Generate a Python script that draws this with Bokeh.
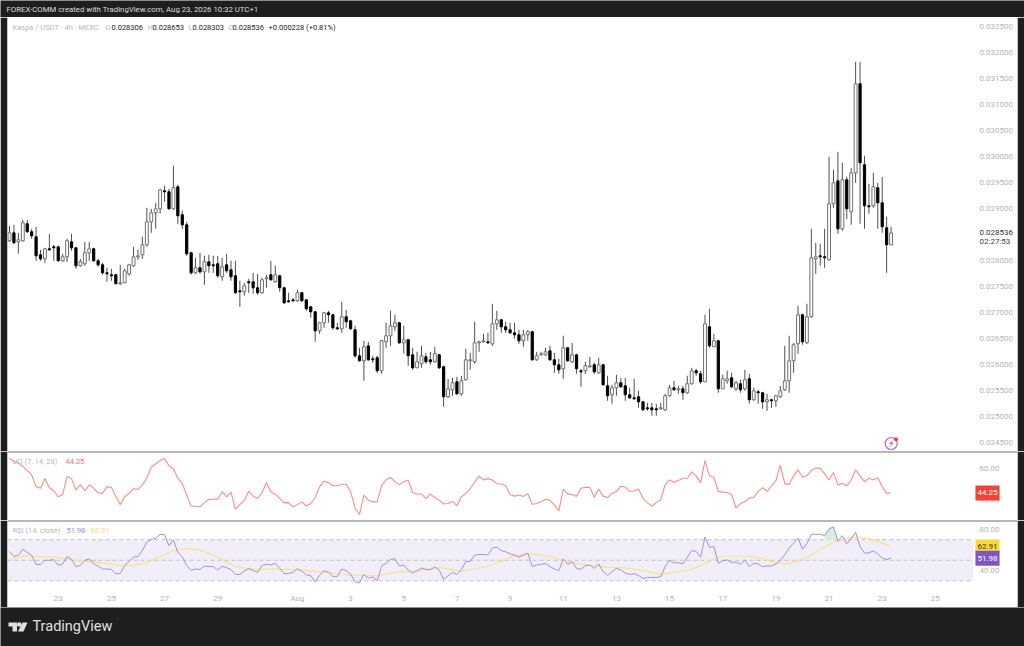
from bokeh.plotting import figure
from bokeh.layouts import column
from bokeh.models import Range1d, FixedTicker, NumeralTickFormatter, Label, Span
from bokeh.embed import file_html
from bokeh.resources import INLINE
import numpy as np

# Prices are in millionths of USDT
opens = [
 28385,28538,28365,28385,28712,28558,28462,28115,28038,28231,
 28269,28269,28000,28077,28365,28250,27904,27942,28154,28231,
 28000,27923,27769,27731,27731,27558,27577,27750,27904,28077,
 28115,28308,28750,28923,29000,29346,29327,29000,29423,28885,
 28692,28154,27769,27865,27788,27981,27923,27942,27692,27923,
 27827,27712,27423,27404,27596,27596,27481,27385,27654,27731,
 27596,27712,27481,27231,27250,27231,27385,27250,27115,27019,
 26654,26808,27000,26962,26712,26692,26923,26846,26673,26173,
 26077,26365,26115,26135,25885,26442,26558,26731,26808,26423,
 26481,26192,25942,26019,26154,26096,26058,26192,25962,25385,
 25519,25673,25442,25712,26077,26058,26423,26442,26442,26404,
 26788,26865,26731,26673,26615,26577,26462,26577,26635,26096,
 26192,26192,26269,26096,26000,25923,26327,26058,26192,25885,
 25885,25962,26000,25846,26000,25596,25423,25558,25654,25596,
 25423,25365,25385,25288,25173,25173,25154,25154,25135,25404,
 25558,25519,25538,25462,25635,25885,25827,25673,26731,26346,
 26462,25538,25692,25750,25538,25635,25538,25731,25327,25481,
 25462,25288,25327,25308,25385,25519,25692,26077,26404,26962,
 26423,26923,28038,28096,28077,28019,29096,29538,28615,29558,
 28942,29692,31404,29846,29058,29058,29404,29115,28635,28306]
highs = [
 28673,28692,28538,28788,28788,28615,28654,28212,28250,28519,
 28308,28288,28135,28423,28519,28269,28038,28365,28365,28250,
 28038,27962,27865,27846,27750,27923,27846,27942,28269,28212,
 28462,29019,29000,29115,29385,29442,29385,29827,29462,28962,
 28750,28173,28058,28154,28096,28115,28096,28096,28058,28135,
 28000,28000,27615,27577,27654,27769,27750,27673,27731,28000,
 27904,27731,27500,27385,27288,27442,27404,27250,27135,27038,
 26827,27019,27038,26981,26808,27212,27058,26865,26750,26327,
 26462,26442,26173,26173,26481,26808,27038,26962,26827,26750,
 26500,26327,26250,26365,26231,26250,26346,26212,25981,25731,
 25750,25769,25788,26308,26231,26827,26462,26596,26615,27173,
 27038,26885,26827,26808,26808,26673,26673,26673,26654,26250,
 26250,26327,26365,26231,26115,26558,26346,26423,26212,25923,
 26058,26154,26038,26135,26019,25788,25615,25808,25750,25750,
 25558,25731,25500,25308,25269,25269,25250,25269,25442,25615,
 25692,25596,25596,25788,25942,25923,25885,26962,27077,26596,
 26481,25808,25885,25846,25692,25712,25904,25827,25558,25519,
 25481,25442,25346,25423,25596,26365,26558,26423,27135,26981,
 27173,28615,28346,28327,28615,30000,29750,30096,29885,29615,
 29788,31827,31827,30019,29481,29692,29500,29615,28846,28653]
lows = [
 28365,28327,28135,28365,28538,28423,28000,28000,27962,28192,
 28000,27981,27981,27981,28192,27846,27885,27904,28000,27981,
 27885,27731,27596,27615,27558,27538,27577,27712,27885,28019,
 28038,28269,28538,28615,28904,29135,28981,28981,28712,28615,
 28096,27731,27750,27750,27538,27769,27769,27673,27615,27769,
 27615,27365,27115,27327,27385,27365,27346,27365,27481,27615,
 27577,27404,27173,27192,27212,27212,27212,27038,26904,26442,
 26596,26712,26808,26673,26673,26615,26712,26673,26135,26058,
 25692,26077,26038,25846,25827,26327,26365,26654,26404,26212,
 25981,25904,25942,25942,26019,26000,26038,25923,25192,25365,
 25404,25423,25404,25692,25904,26019,26250,26423,26404,26365,
 26673,26615,26615,26596,26500,26404,26346,26462,26077,26077,
 26173,26173,26077,25846,25827,25731,26058,26038,25827,25577,
 25827,25942,25827,25827,25596,25308,25250,25404,25558,25308,
 25346,25327,25173,25115,25115,25019,25019,25135,25115,25385,
 25500,25442,25327,25442,25615,25788,25635,25673,26327,26346,
 25462,25538,25635,25558,25500,25462,25500,25250,25308,25250,
 25154,25115,25173,25192,25365,25500,25462,25846,26212,26385,
 26404,26904,27750,27904,27865,28000,29019,28519,28577,28808,
 28692,29500,28712,28615,28904,29019,28615,28538,27769,28303]
closes = [
 28538,28346,28404,28731,28558,28481,28096,28038,28231,28212,
 28250,28000,28077,28385,28250,27904,27981,28154,28231,28000,
 27923,27769,27750,27712,27558,27577,27808,27923,28077,28096,
 28308,28750,28923,29000,29365,29327,29000,29404,28865,28692,
 28135,27769,27865,27788,27981,27904,27904,27712,27885,27808,
 27692,27385,27404,27519,27577,27481,27385,27635,27673,27635,
 27731,27481,27192,27212,27231,27385,27231,27077,27019,26654,
 26808,27000,26962,26712,26692,26923,26827,26692,26173,26077,
 26346,26096,26096,25885,26462,26558,26750,26808,26423,26481,
 26173,25942,26058,26173,26058,26058,26212,25942,25385,25538,
 25654,25442,25692,26096,26096,26423,26442,26462,26423,26788,
 26865,26731,26673,26615,26577,26462,26577,26635,26096,26173,
 26212,26250,26096,26000,25904,26327,26077,26192,25923,25865,
 25981,25981,25865,26000,25615,25404,25558,25654,25577,25423,
 25365,25346,25288,25135,25154,25135,25135,25173,25404,25558,
 25519,25538,25462,25635,25885,25846,25673,26788,26365,26462,
 25538,25731,25731,25577,25654,25519,25712,25327,25500,25462,
 25288,25327,25308,25404,25500,25692,26077,26385,26962,26442,
 26923,28058,28077,28077,28058,29096,29500,28615,29558,29000,
 29692,31404,29885,29058,29038,29423,29115,28654,28308,28536]
uo = [
 66.6,64.8,63.7,61.5,58.9,56.0,48.4,47.3,53.6,47.7,
 45.7,41.8,43.3,54.9,53.6,46.2,49.5,45.7,49.5,47.3,
 44.4,44.0,48.4,47.9,42.2,36.7,41.8,44.0,47.0,46.6,
 49.5,53.8,61.1,63.1,65.3,66.6,62.0,60.0,53.8,50.5,
 42.9,35.6,35.6,35.2,38.0,40.0,40.2,40.2,45.1,41.8,
 44.8,33.6,36.7,39.6,45.3,42.2,40.7,44.4,51.0,45.1,
 43.5,40.7,37.8,38.0,35.2,36.7,38.5,35.8,37.4,41.3,
 48.4,51.9,51.0,49.0,49.0,49.9,49.9,45.1,34.7,30.3,
 42.9,39.6,38.5,38.5,49.0,52.7,54.3,51.6,49.5,51.6,
 52.7,44.4,43.7,43.5,40.7,43.5,41.3,39.6,37.1,37.4,
 38.7,36.0,41.8,44.0,46.8,51.2,55.2,52.7,53.6,52.7,
 50.3,50.1,49.0,43.1,42.2,42.9,42.0,44.0,36.9,37.4,
 38.5,40.2,39.6,36.3,32.7,46.6,43.7,43.3,42.0,47.3,
 47.9,47.9,41.5,46.8,42.2,41.3,44.0,45.3,48.6,48.1,
 45.3,45.5,46.8,40.7,37.8,35.8,38.0,39.8,49.7,52.7,
 51.2,52.3,53.8,53.8,57.8,55.4,51.0,65.3,55.4,54.3,
 45.3,44.8,44.6,43.3,34.5,37.4,38.5,40.9,41.3,45.1,
 47.7,45.3,48.8,52.3,62.2,50.5,49.7,55.4,59.3,54.5,
 55.4,58.9,60.4,60.4,56.7,52.7,57.6,49.5,50.5,48.8,
 52.7,59.3,55.4,51.6,53.8,52.7,54.1,48.4,44.0,44.25]
rsi = [
 58.5,53.6,54.9,60.8,57.5,54.9,46.1,45.7,50.0,50.0,
 50.7,45.1,46.4,53.6,51.0,43.8,45.1,50.0,51.3,46.4,
 44.4,41.5,41.5,41.1,36.9,37.2,44.8,48.7,53.0,53.6,
 59.5,67.7,70.3,71.3,75.2,74.9,64.1,69.7,57.5,53.6,
 44.8,40.2,41.5,41.1,44.4,43.8,43.8,40.5,44.1,42.8,
 41.1,36.2,36.2,39.5,41.8,40.2,38.2,44.8,46.1,45.4,
 47.0,42.1,36.9,37.2,38.2,41.8,39.2,35.9,34.9,29.0,
 35.6,39.8,38.5,34.3,34.3,41.5,39.8,36.6,29.3,28.0,
 36.2,32.6,33.6,30.0,44.4,47.0,50.7,51.6,44.4,45.4,
 40.5,37.5,39.8,42.5,41.1,40.8,43.4,40.5,31.6,34.9,
 38.2,36.2,40.8,48.7,49.0,54.9,55.6,55.6,55.2,61.8,
 62.8,59.5,58.2,56.2,55.2,53.0,54.9,56.9,43.8,45.4,
 46.1,47.0,43.8,41.5,39.8,51.3,46.1,48.4,42.1,41.1,
 44.8,45.4,42.1,46.4,38.9,35.2,38.9,42.1,40.5,37.5,
 36.2,36.9,35.2,32.3,33.3,33.3,33.3,33.9,43.8,50.0,
 47.4,47.7,46.4,53.0,59.5,58.5,53.0,72.6,62.5,63.4,
 47.0,49.7,50.3,47.7,48.4,46.1,50.3,43.8,47.0,46.4,
 43.8,44.4,44.4,46.4,50.0,55.2,61.8,66.7,71.6,60.8,
 66.1,75.2,75.2,75.2,73.9,80.5,82.5,68.4,73.9,66.1,
 70.7,77.2,63.4,56.9,57.2,59.2,56.2,52.0,50.7,51.98]
rsi_ma_bars = [0,3,7,10,13,16,19,22,25,28,31,34,37,40,43,46,49,51,54,57,60,63,66,69,72,74,77,80,83,86,88,91,94,97,100,102,105,108,111,114,117,122,125,129,132,135,138,141,144,147,150,152,154,156,159,161,164,167,170,173,175,177,180,183,186,189,191,194,197,199]
rsi_ma = [50.3,54.3,53.6,53.3,51.3,49.3,48.4,46.7,45.1,44.8,47.7,53.6,59.5,61.5,59.8,55.2,48.4,44.1,41.5,41.1,41.5,41.1,40.5,38.9,37.9,36.9,35.6,35.2,34.9,37.2,38.9,39.2,41.1,42.8,41.1,39.5,41.5,44.4,49.3,54.3,56.6,53.6,50.0,46.1,44.8,43.1,42.8,41.5,39.2,36.2,38.2,39.5,41.1,44.8,51.0,53.9,53.9,53.9,51.6,47.4,46.4,47.7,53.0,60.2,67.7,71.6,72.3,71.0,66.7,62.91]

price_ticks = [0.0245,0.0250,0.0255,0.0260,0.0265,0.0270,0.0275,0.0280,0.0290,0.0295,0.0300,0.0305,0.0310,0.0315,0.0320,0.0325]
uo_ticks = [40, 60]
rsi_ticks = [40, 80]
time_tick_bars = [11,23,35,47,65,77,89,101,113,125,137,149,161,173,185,197,209]
time_tick_labels = ["23","25","27","29","Aug","3","5","7","9","11","13","15","17","19","21","23","25"]

BAR_PX = 4.43
DARK = "#1e1e1e"
TICK = "#b4b4b4"
W = 1024
FONT = "Roboto"

def px2x(px):
    return (px - 9) / BAR_PX

x_range = Range1d(px2x(7), px2x(1017))
bars = np.arange(len(opens))
o, h, l, c = [np.array(a) / 1e6 for a in (opens, highs, lows, closes)]
up = c >= o

def base(height, y_range, x_loc=None):
    f = figure(width=W, height=height, x_range=x_range, y_range=y_range,
               output_backend="svg", toolbar_location=None, y_axis_location="right",
               x_axis_location=x_loc, border_fill_color=DARK, background_fill_color="white",
               min_border_left=7, min_border_right=7, min_border_top=0, min_border_bottom=0)
    f.outline_line_color = None
    f.grid.visible = False
    ax = f.yaxis[0]
    ax.axis_line_color = None
    ax.major_tick_line_color = None
    ax.minor_tick_line_color = None
    ax.major_tick_out = 0
    ax.major_tick_in = 0
    ax.major_label_text_color = TICK
    ax.major_label_text_font = FONT
    ax.major_label_text_font_size = "8px"
    ax.major_label_standoff = -38
    return f

def strip(height, y_top, y_bot):
    f = figure(width=W, height=height, x_range=Range1d(0, 1024), y_range=Range1d(y_bot, y_top),
               output_backend="svg", toolbar_location=None, x_axis_location=None, y_axis_location=None,
               border_fill_color=DARK, background_fill_color=DARK, frame_align=False,
               min_border_left=0, min_border_right=0, min_border_top=0, min_border_bottom=0)
    f.outline_line_color = None
    f.grid.visible = False
    return f

def tag(fig, text, x, y, color, size="8px", style="normal", yu="screen", shift=7, **kw):
    lab = Label(x=x - shift, y=y, x_units="screen", y_units=yu, text=text, text_color=color,
                text_font=FONT, text_font_size=size, text_font_style=style, text_baseline="middle", **kw)
    fig.add_layout(lab)
    return lab

# ---------- header strip
p0 = strip(17, 0, 17)
tag(p0, "FOREX-COMM created with TradingView.com, Aug 23, 2026 10:32 UTC+1", 6, 8, "#dddddd", "7.8px", shift=0)

# ---------- price pane
B1 = 451
p1 = base(434, Range1d(0.032 - (451 - 52.3) / 52000, 0.032 + (52.3 - 17) / 52000))
p1.yaxis[0].ticker = FixedTicker(ticks=price_ticks)
p1.yaxis[0].formatter = NumeralTickFormatter(format="0.000000")
p1.segment(bars, h, bars, l, line_color="#505050", line_width=1)
p1.vbar(bars[up], 0.65, c[up], o[up], fill_color="white", line_color="#707070", line_width=1)
p1.vbar(bars[~up], 0.5, o[~up], c[~up], fill_color="black", line_color="black", line_width=1)

tag(p1, "Kaspa / USDT · 4h · MEXC", 12, B1 - 27, "#b9b9b9", "7.5px")
legend_items = [("O",105,"#b9b9b9"),("0.028306",111,"#222222"),("H",147,"#b9b9b9"),("0.028653",152,"#222222"),
                ("L",188,"#b9b9b9"),("0.028303",192,"#222222"),("C",228,"#b9b9b9"),("0.028536",232,"#222222"),
                ("+0.000228 (+0.81%)",268,"#222222")]
for t, x, col in legend_items:
    tag(p1, t, x, B1 - 27, col, "7.5px")
tag(p1, "0.028536", 979, B1 - 232, "#333333")
tag(p1, "02:27:53", 979, B1 - 241, "#444444")

# lightning badge
bx, by = px2x(890.7), 0.032 - (443 - 52.3) / 52000
p1.scatter([bx], [by], size=12, fill_color="white", line_color="#b668d0", line_width=1.2)
p1.scatter([px2x(895.5)], [0.032 - (438.7 - 52.3) / 52000], size=4, fill_color="#f44336", line_color=None)
bolt_px = [(892.5, 439), (888.5, 443.5), (890.5, 443.5), (889, 447), (893, 442.3), (891, 442.3)]
p1.patch([px2x(a) for a, _ in bolt_px], [0.032 - (b - 52.3) / 52000 for _, b in bolt_px], fill_color="#b668d0", line_color=None)

# ---------- UO pane
H2 = 69
uo_top = 60 + (469 - 452) / 1.517
uo_bot = 60 - (520 - 469) / 1.517
p2 = base(H2, Range1d(uo_bot, uo_top))
p2.yaxis[0].ticker = FixedTicker(ticks=uo_ticks)
p2.yaxis[0].formatter = NumeralTickFormatter(format="0.00")
p2.line(bars, uo, line_color="#fb8c88", line_width=1.1)
p2.add_layout(Span(location=uo_top, dimension="width", line_color="#707070", line_width=2))
tag(p2, "UO (7, 14, 28)", 12, H2 - 10, "#b9b9b9", "7.5px")
tag(p2, "44.25", 65, H2 - 10, "#ff7070", "7.5px")
tag(p2, "44.25", 987, 44.25, "white", "8px", yu="data", text_align="center",
    background_fill_color="#f44336", padding=(2, 5))

# ---------- RSI pane
H3 = 87
rsi_top = 50 + 39.3 / 1.0167
rsi_bot = 50 - 46.7 / 1.0167
p3 = base(H3, Range1d(rsi_bot, rsi_top), x_loc="below")
p3.yaxis[0].ticker = FixedTicker(ticks=rsi_ticks)
p3.yaxis[0].formatter = NumeralTickFormatter(format="0.00")
xa = p3.xaxis[0]
xa.ticker = FixedTicker(ticks=time_tick_bars)
xa.major_label_overrides = dict(zip(time_tick_bars, time_tick_labels))
xa.axis_line_color = None
xa.major_tick_line_color = None
xa.minor_tick_line_color = None
xa.major_tick_out = 0
xa.major_tick_in = 0
xa.major_label_text_color = TICK
xa.major_label_text_font = FONT
xa.major_label_text_font_size = "8px"
xa.major_label_standoff = -14

band_end = px2x(973)
p3.quad(left=[x_range.start], right=[band_end], top=[70], bottom=[30], fill_color="#7e57c2", fill_alpha=0.1, line_color=None)
for level in (70, 50, 30):
    p3.line([x_range.start, band_end], [level, level], line_color="#c0c0c0", line_width=1, line_dash="4 3")
rsi_arr = np.array(rsi)
hot = np.arange(184, 188)
p3.varea(hot, np.full(len(hot), 70.0), np.maximum(rsi_arr[hot], 70.0), fill_color="#d5ecdc", fill_alpha=0.9)
p3.line(rsi_ma_bars, rsi_ma, line_color="#fbe08a", line_width=1.2)
p3.line(bars, rsi, line_color="#a48fd8", line_width=1)
p3.add_layout(Span(location=rsi_top, dimension="width", line_color="#707070", line_width=2))
tag(p3, "RSI (14, close)", 12, H3 - 10, "#b9b9b9", "7.5px")
tag(p3, "51.98", 66, H3 - 10, "#a48fd8", "7.5px")
tag(p3, "62.91", 90, H3 - 10, "#f5d76e", "7.5px")
tag(p3, "62.91", 987, 62.91, "#333333", "8px", yu="data", text_align="center",
    background_fill_color="#fdd835", padding=(2, 5))
tag(p3, "51.98", 987, 51.98, "white", "8px", yu="data", text_align="center",
    background_fill_color="#7e57c2", padding=(2, 5))

# ---------- footer with logo
p4 = strip(39, 607, 646)
LOGO = "#e0e0e0"
p4.patch([8, 16.5, 16.5, 12, 12, 8], [622, 622, 631, 631, 626, 626], fill_color=LOGO, line_color=None)
p4.scatter([18.7], [624], size=4.5, fill_color=LOGO, line_color=None)
p4.patch([22, 27, 23, 17.5], [622, 622, 631, 631], fill_color=LOGO, line_color=None)
tag(p4, "TradingView", 32, 20, LOGO, "14.5px", "normal", shift=0)

layout = column(p0, p1, p2, p3, p4, spacing=0,
                styles={"position": "absolute", "left": "0px", "top": "0px"})

open("out.html", "w").write(file_html(layout, INLINE))
